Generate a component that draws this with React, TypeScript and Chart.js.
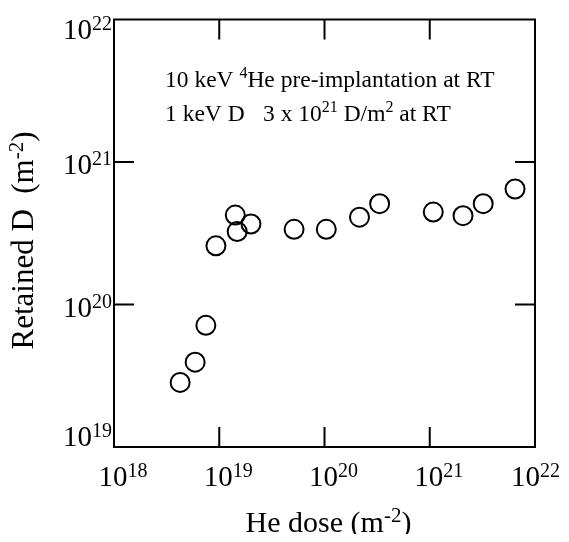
import React, { useEffect, useRef } from "react";
import { Chart, registerables } from "chart.js";

Chart.register(...registerables);

// He dose (m^-2)
const heDose = [
  4.25e18, 5.9e18, 7.46e18, 9.3e18, 1.42e19, 1.48e19, 2.0e19, 5.14e19,
  1.04e20, 2.15e20, 3.34e20, 1.08e21, 2.07e21, 3.22e21, 6.46e21,
];
// Retained D (m^-2)
const retainedD = [
  2.84e19, 3.94e19, 7.14e19, 2.58e20, 4.24e20, 3.25e20, 3.67e20, 3.37e20,
  3.37e20, 4.1e20, 5.1e20, 4.45e20, 4.2e20, 5.1e20, 6.46e20,
];
const xExponents = [18, 19, 20, 21, 22];
const yExponents = [19, 20, 21, 22];

type Seg = { text: string; sup?: boolean };
const xTitle: Seg[] = [{ text: "He dose (m" }, { text: "-2", sup: true }, { text: ")" }];
const yTitle: Seg[] = [{ text: "Retained D  (m" }, { text: "-2", sup: true }, { text: ")" }];
const noteLine1: Seg[] = [
  { text: "10 keV " },
  { text: "4", sup: true },
  { text: "He pre-implantation at RT" },
];
const noteLine2a: Seg[] = [{ text: "1 keV D" }];
const noteLine2b: Seg[] = [
  { text: "3 x 10" },
  { text: "21", sup: true },
  { text: " D/m" },
  { text: "2", sup: true },
  { text: " at RT" },
];

const FONT = "'Liberation Serif', 'DejaVu Serif', serif";

function richWidth(ctx: CanvasRenderingContext2D, segs: Seg[], base: number, sup: number) {
  let total = 0;
  segs.forEach((s) => {
    ctx.font = `${s.sup ? sup : base}px ${FONT}`;
    total += ctx.measureText(s.text).width;
  });
  return total;
}

function drawRich(
  ctx: CanvasRenderingContext2D,
  segs: Seg[],
  x: number,
  y: number,
  base: number,
  sup: number,
  raise: number,
  align: "left" | "center" | "right"
) {
  const total = richWidth(ctx, segs, base, sup);
  let cx = align === "left" ? x : align === "center" ? x - total / 2 : x - total;
  ctx.textAlign = "left";
  ctx.textBaseline = "alphabetic";
  segs.forEach((s) => {
    ctx.font = `${s.sup ? sup : base}px ${FONT}`;
    ctx.fillText(s.text, cx, s.sup ? y - raise : y);
    cx += ctx.measureText(s.text).width;
  });
}

const framePlugin = {
  id: "frameAndLabels",
  afterDraw(chart: any) {
    const ctx: CanvasRenderingContext2D = chart.ctx;
    const { left, right, top, bottom } = chart.chartArea;
    const xs = chart.scales.x;
    const ys = chart.scales.y;
    ctx.save();
    ctx.strokeStyle = "#000";
    ctx.fillStyle = "#000";
    ctx.lineWidth = 2;
    ctx.strokeRect(left, top, right - left, bottom - top);
    const tl = 20;
    ctx.beginPath();
    xExponents.forEach((e) => {
      const px = xs.getPixelForValue(Math.pow(10, e));
      if (px > left + 1 && px < right - 1) {
        ctx.moveTo(px, bottom);
        ctx.lineTo(px, bottom - tl);
        ctx.moveTo(px, top);
        ctx.lineTo(px, top + tl);
      }
    });
    yExponents.forEach((e) => {
      const py = ys.getPixelForValue(Math.pow(10, e));
      if (py > top + 1 && py < bottom - 1) {
        ctx.moveTo(left, py);
        ctx.lineTo(left + tl, py);
        ctx.moveTo(right, py);
        ctx.lineTo(right - tl, py);
      }
    });
    ctx.stroke();

    // x tick labels
    xExponents.forEach((e) => {
      const px = xs.getPixelForValue(Math.pow(10, e));
      const segs = [{ text: "10" }, { text: String(e), sup: true }];
      const w = richWidth(ctx, segs, 29, 20);
      const cx = Math.min(px + 9, chart.width - w / 2 - 1);
      drawRich(ctx, segs, cx, bottom + 39, 29, 20, 9, "center");
    });
    // y tick labels
    yExponents.forEach((e) => {
      const py = ys.getPixelForValue(Math.pow(10, e));
      const base = Math.min(Math.max(py + 12, top + 19), bottom - 1);
      drawRich(ctx, [{ text: "10" }, { text: String(e), sup: true }], left - 2, base, 29, 20, 9, "right");
    });

    // axis titles
    drawRich(ctx, xTitle, (left + right) / 2 + 4, bottom + 85, 30, 21, 10, "center");
    ctx.save();
    ctx.translate(left - 81, top + 221);
    ctx.rotate(-Math.PI / 2);
    drawRich(ctx, yTitle, 0, 0, 31, 21, 10, "center");
    ctx.restore();

    // annotation
    drawRich(ctx, noteLine1, left + 51, top + 67, 23.5, 16, 9, "left");
    drawRich(ctx, noteLine2a, left + 51, top + 101, 23.5, 16, 9, "left");
    drawRich(ctx, noteLine2b, left + 149, top + 101, 23.5, 16, 9, "left");
    ctx.restore();
  },
};

function ScatterChart() {
  const ref = useRef<HTMLCanvasElement | null>(null);
  useEffect(() => {
    if (!ref.current) return;
    const chart = new Chart(ref.current, {
      type: "scatter",
      data: {
        datasets: [
          {
            data: heDose.map((x, i) => ({ x, y: retainedD[i] })),
            pointRadius: 9.5,
            pointBorderWidth: 2,
            pointBackgroundColor: "rgba(0,0,0,0)",
            pointBorderColor: "#000",
            showLine: false,
            clip: false as any,
          },
        ],
      },
      options: {
        responsive: false,
        animation: false,
        layout: { padding: { left: 106, right: 26, top: 6, bottom: 87 } },
        plugins: { legend: { display: false }, tooltip: { enabled: false } },
        scales: {
          x: { type: "logarithmic", min: 1e18, max: 1e22, display: false },
          y: { type: "logarithmic", min: 1e19, max: 1e22, display: false },
        },
      },
      plugins: [framePlugin],
    });
    return () => chart.destroy();
  }, []);
  return <canvas ref={ref} width={553} height={526} style={{ display: "block" }} />;
}

export default function App() {
  return (
    <div style={{ width: 553, height: 526, background: "#fff" }}>
      <ScatterChart />
    </div>
  );
}
